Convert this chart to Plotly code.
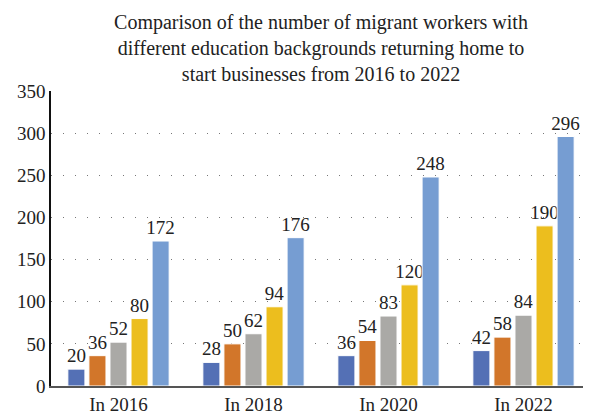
import plotly.graph_objects as go

categories = ["In 2016", "In 2018", "In 2020", "In 2022"]
series_names = ["Group 1", "Group 2", "Group 3", "Group 4", "Group 5"]
values_1 = [20, 28, 36, 42]
values_2 = [36, 50, 54, 58]
values_3 = [52, 62, 83, 84]
values_4 = [80, 94, 120, 190]
values_5 = [172, 176, 248, 296]
colors = ["#5470B5", "#D2762A", "#AAA9A6", "#ECBE1E", "#769DD2"]
y_ticks = [0, 50, 100, 150, 200, 250, 300, 350]

FONT = "Liberation Serif"
fig = go.Figure()
for name, vals, col in zip(series_names,
                           [values_1, values_2, values_3, values_4, values_5],
                           colors):
    fig.add_trace(go.Bar(
        x=categories, y=vals, name=name,
        marker=dict(color=col, line=dict(color="white", width=1)),
        text=[str(v) for v in vals], textposition="outside",
        constraintext="none",
        textfont=dict(family=FONT, size=19, color="#222222"),
        cliponaxis=False,
    ))

fig.update_layout(
    width=591, height=417,
    margin=dict(l=43, r=8, t=83, b=39),
    paper_bgcolor="white", plot_bgcolor="white",
    showlegend=False,
    barmode="group", bargap=0.22, bargroupgap=0.19,
    font=dict(family=FONT, size=19, color="#222222"),
    title=dict(
        text="Comparison of the number of migrant workers with<br>"
             "different education backgrounds returning home to<br>"
             "start businesses from 2016 to 2022",
        x=0.5, xref="paper", xanchor="center",
        y=0.95, yref="container", yanchor="top",
        font=dict(family=FONT, size=20, color="#222222"),
    ),
)
fig.update_yaxes(
    range=[0, 350], tickvals=y_ticks, ticktext=[str(t) for t in y_ticks],
    showgrid=True, gridcolor="#777777", gridwidth=1, griddash="1px,11px",
    showline=True, linecolor="#111111", linewidth=1.5,
    ticks="", zeroline=False,
    tickfont=dict(family=FONT, size=19, color="#222222"),
)
fig.update_xaxes(
    showline=True, linecolor="#555555", linewidth=2,
    ticks="", tickfont=dict(family=FONT, size=19, color="#222222"),
)

fig.write_html("out.html")
